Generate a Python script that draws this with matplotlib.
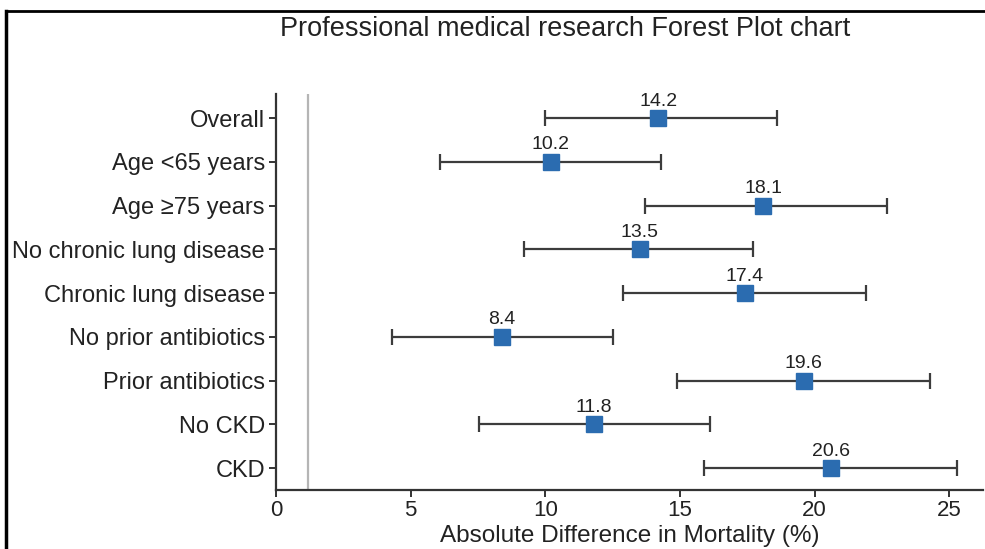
import matplotlib
matplotlib.use("Agg")
import matplotlib.pyplot as plt
from matplotlib.lines import Line2D

plt.rcParams['font.family'] = ['Liberation Sans', 'DejaVu Sans']

categories = ["Overall", "Age <65 years", "Age \u226575 years", "No chronic lung disease",
              "Chronic lung disease", "No prior antibiotics", "Prior antibiotics",
              "No CKD", "CKD"]
estimates = [14.2, 10.2, 18.1, 13.5, 17.4, 8.4, 19.6, 11.8, 20.6]
ci_low = [10.0, 6.1, 13.7, 9.2, 12.9, 4.3, 14.9, 7.55, 15.9]
ci_high = [18.6, 14.3, 22.7, 17.7, 21.9, 12.5, 24.3, 16.1, 25.3]
ref_line = 1.2
xticks = [0, 5, 10, 15, 20, 25]

fig = plt.figure(figsize=(9.85, 5.49), dpi=100)
ax = fig.add_axes([0.2802, 0.1075, 0.718, 0.7213])

ypos = list(range(len(categories)))
xerr = [[e - l for e, l in zip(estimates, ci_low)],
        [h - e for e, h in zip(estimates, ci_high)]]
ax.axvline(ref_line, color='#b5b5b5', lw=1.6, zorder=1)
ax.errorbar(estimates, ypos, xerr=xerr, fmt='none', ecolor='#3c3c3c',
            elinewidth=1.6, capsize=5.5, capthick=1.6, zorder=2)
ax.plot(estimates, ypos, 's', color='#2b6cb0', markersize=11.5, zorder=3, linestyle='none')
for e, y in zip(estimates, ypos):
    ax.annotate(f"{e:.1f}", (e, y), xytext=(0, 9), textcoords='offset points',
                ha='center', va='baseline', fontsize=14, color='#222222')

ax.set_yticks(ypos)
ax.set_yticklabels(categories, fontsize=17, color='#222222')
ax.set_xticks(xticks)
ax.set_xticklabels([str(t) for t in xticks], fontsize=16, color='#222222')
ax.set_xlim(0, 26.26)
ax.set_ylim(8.5, -0.55)
for s in ['top', 'right']:
    ax.spines[s].set_visible(False)
for s in ['left', 'bottom']:
    ax.spines[s].set_linewidth(1.6)
    ax.spines[s].set_color('#333333')
ax.tick_params(axis='both', direction='out', length=5, width=1.4, color='#333333')
ax.tick_params(axis='y', pad=3)
ax.tick_params(axis='x', pad=2)
ax.set_xlabel("Absolute Difference in Mortality (%)", fontsize=17.5, color='#222222', labelpad=3)

fig.text(565 / 985, 1 - 29 / 549, "Professional medical research Forest Plot chart",
         ha='center', va='center', fontsize=19.5, color='#222222')

# frame lines at top and left of the image
fig.add_artist(Line2D([6 / 985, 1.0], [1 - 11 / 549, 1 - 11 / 549], transform=fig.transFigure,
                      color='black', lw=2))
fig.add_artist(Line2D([6 / 985, 6 / 985], [0, 1 - 11 / 549], transform=fig.transFigure,
                      color='black', lw=2.5))

fig.savefig("out.png", dpi=100)
